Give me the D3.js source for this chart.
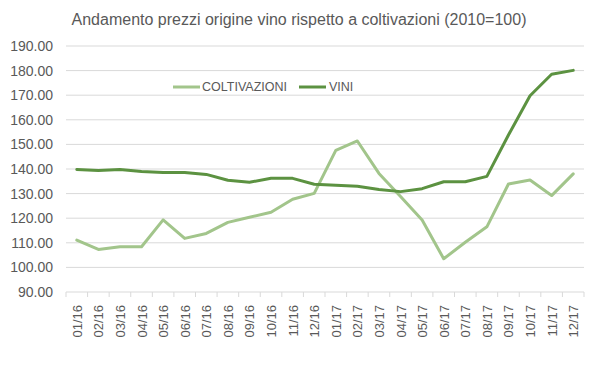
<!DOCTYPE html>
<html><head><meta charset="utf-8">
<script src="https://cdn.jsdelivr.net/npm/d3@7"></script>
<style>body{margin:0;background:#fff;}svg{display:block;}text{font-family:"Liberation Sans",Arial,sans-serif;fill:#595959;}</style>
</head><body><svg id="c" width="600" height="378"></svg>
<script>
const months = ["01/16","02/16","03/16","04/16","05/16","06/16","07/16","08/16","09/16","10/16","11/16","12/16",
"01/17","02/17","03/17","04/17","05/17","06/17","07/17","08/17","09/17","10/17","11/17","12/17"];
const coltivazioni = [111.1,107.3,108.4,108.4,119.3,111.8,113.8,118.3,120.4,122.4,127.7,130.1,
147.6,151.4,138.2,128.8,119.3,103.5,110.2,116.5,133.9,135.5,129.2,138.0];
const vini = [139.8,139.4,139.8,139.0,138.6,138.6,137.8,135.4,134.6,136.2,136.2,133.8,
133.4,133.0,131.7,130.8,132.0,134.8,134.8,137.0,153.8,169.8,178.5,180.1];
const yTicks = [90,100,110,120,130,140,150,160,170,180,190];
const seriesNames = ["COLTIVAZIONI","VINI"];
const colors = ["#a2c58b","#5c9241"];
const title = "Andamento prezzi origine vino rispetto a coltivazioni (2010=100)";

const svg = d3.select("#c");
const L=66, R=584, T=46, B=292;
const x = d3.scaleBand().domain(months).range([L,R]);
const y = d3.scaleLinear().domain([90,190]).range([B,T]);

svg.append("text").attr("x",299).attr("y",25).attr("text-anchor","middle")
  .style("font-size","16px").text(title);

// grid
svg.append("g").selectAll("line").data(yTicks.filter(d=>d>90)).join("line")
  .attr("x1",L).attr("x2",R).attr("y1",d=>y(d)).attr("y2",d=>y(d))
  .attr("stroke","#d9d9d9").attr("stroke-width",1);
svg.append("g").selectAll("text").data(yTicks).join("text")
  .attr("x",53).attr("y",d=>y(d)).attr("dy","0.35em").attr("text-anchor","end")
  .style("font-size","14px").text(d=>d.toFixed(2));

// x axis
svg.append("line").attr("x1",L).attr("x2",R).attr("y1",B).attr("y2",B).attr("stroke","#d9d9d9");
const ticks = months.map((m,i)=>x(m)).concat([R]);
svg.append("g").selectAll("line").data(ticks).join("line")
  .attr("x1",d=>d).attr("x2",d=>d).attr("y1",B).attr("y2",B+5).attr("stroke","#d9d9d9");
svg.append("g").selectAll("text").data(months).join("text")
  .attr("transform",d=>`translate(${x(d)+x.bandwidth()/2+5},${B+13}) rotate(-90)`)
  .attr("text-anchor","end").style("font-size","13px").text(d=>d);

// lines
const line = d3.line().x((d,i)=>x(months[i])+x.bandwidth()/2).y(d=>y(d));
[coltivazioni,vini].forEach((s,k)=>{
  svg.append("path").datum(s).attr("d",line).attr("fill","none")
    .attr("stroke",colors[k]).attr("stroke-width",3).attr("stroke-linejoin","round").attr("stroke-linecap","round");
});

// legend
const leg=[{x:173,tx:202},{x:299,tx:329}];
seriesNames.forEach((n,k)=>{
  svg.append("line").attr("x1",leg[k].x).attr("x2",leg[k].x+27).attr("y1",87).attr("y2",87)
    .attr("stroke",colors[k]).attr("stroke-width",3);
  svg.append("text").attr("x",leg[k].tx).attr("y",87).attr("dy","0.35em").style("font-size","12.5px").text(n);
});
</script></body></html>
